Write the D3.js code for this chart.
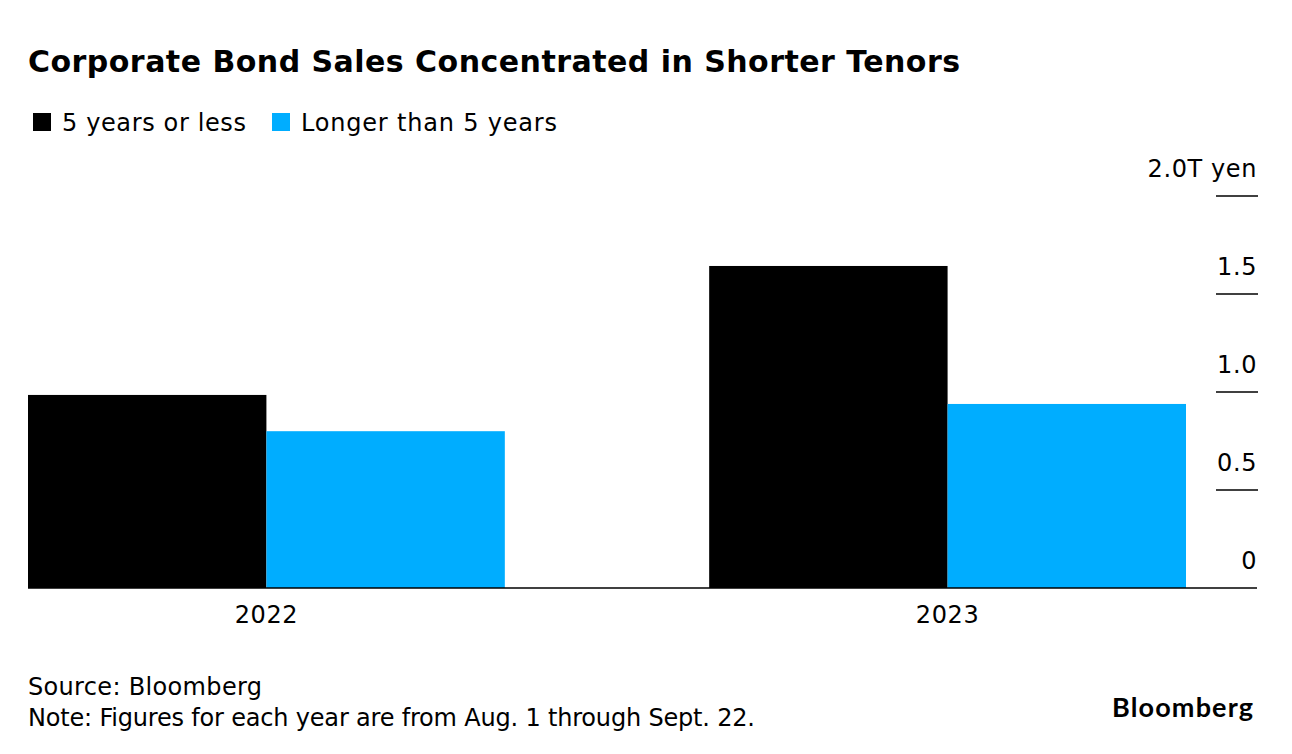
<!DOCTYPE html>
<html>
<head>
<meta charset="utf-8">
<script src="https://cdn.jsdelivr.net/npm/d3@7"></script>
<style>
  body { margin: 0; background: #fff; }
  text { font-family: "DejaVu Sans", "Liberation Sans", sans-serif; fill: #000; }
</style>
</head>
<body>
<svg id="chart" width="1292" height="754"></svg>
<script>
"use strict";

const years = ["2022", "2023"];
const series = ["5 years or less", "Longer than 5 years"];
const short_tenor = [0.985, 1.643];
const long_tenor = [0.80, 0.939];
const y_ticks = [0, 0.5, 1.0, 1.5, 2.0];
const y_tick_labels = ["0", "0.5", "1.0", "1.5", "2.0T yen"];
const colors = ["#000000", "#00adff"];

const svg = d3.select("#chart");

// stretch a text to the width it has in the original
function fit(sel, w) {
    return sel.attr("textLength", w).attr("lengthAdjust", "spacing");
}

// title + legend
fit(svg.append("text")
    .attr("x", 28).attr("y", 72)
    .attr("font-size", 30).attr("font-weight", "bold")
    .text("Corporate Bond Sales Concentrated in Shorter Tenors"), 932);

const legend_x = [33, 272];
const legend_w = [184, 256];
series.forEach((s, i) => {
    svg.append("rect")
        .attr("x", legend_x[i]).attr("y", 113)
        .attr("width", 18).attr("height", 18)
        .attr("fill", colors[i]);
    fit(svg.append("text")
        .attr("x", legend_x[i] + 29).attr("y", 131)
        .attr("font-size", 24)
        .text(s), legend_w[i]);
});

const x0 = d3.scaleBand()
    .domain(years)
    .range([28, 1186])
    .paddingInner(0.3)
    .paddingOuter(0);
const x1 = d3.scaleBand()
    .domain(series)
    .range([0, x0.bandwidth()]);
const y = d3.scaleLinear()
    .domain([0, 2])
    .range([588, 196]);

const rows = years.map((yr, i) => ({year: yr, values: [short_tenor[i], long_tenor[i]]}));

const groups = svg.append("g").selectAll("g")
    .data(rows)
    .join("g")
    .attr("transform", d => `translate(${x0(d.year)},0)`);
groups.selectAll("rect")
    .data(d => d.values.map((v, i) => ({key: series[i], v: v, i: i})))
    .join("rect")
    .attr("x", d => x1(d.key))
    .attr("y", d => y(d.v))
    .attr("width", x1.bandwidth())
    .attr("height", d => y(0) - y(d.v))
    .attr("fill", d => colors[d.i]);

// right axis: short lines with labels sitting on top
const axis = svg.append("g");
y_ticks.forEach((t, i) => {
    if (t > 0) {
        axis.append("line")
            .attr("x1", 1216).attr("x2", 1258)
            .attr("y1", y(t)).attr("y2", y(t))
            .attr("stroke", "#000").attr("stroke-width", 1.5);
    }
    axis.append("text")
        .attr("x", 1257).attr("y", y(t) - 19)
        .attr("text-anchor", "end")
        .attr("font-size", 24)
        .attr("letter-spacing", 0.6)
        .text(y_tick_labels[i]);
});

// baseline
svg.append("line")
    .attr("x1", 28).attr("x2", 1257)
    .attr("y1", y(0)).attr("y2", y(0))
    .attr("stroke", "#000").attr("stroke-width", 1.5);

// x labels
svg.append("g").selectAll("text")
    .data(years)
    .join("text")
    .attr("x", d => x0(d) + x0.bandwidth() / 2)
    .attr("y", 623)
    .attr("text-anchor", "middle")
    .attr("font-size", 24)
    .attr("letter-spacing", 0.6)
    .text(d => d);

// footer
fit(svg.append("text")
    .attr("x", 28).attr("y", 695)
    .attr("font-size", 24)
    .text("Source: Bloomberg"), 234);
fit(svg.append("text")
    .attr("x", 28).attr("y", 726)
    .attr("font-size", 24)
    .text("Note: Figures for each year are from Aug. 1 through Sept. 22."), 727);
// logo: css rule would win over the attribute, so set it as style
fit(svg.append("text")
    .attr("x", 1112).attr("y", 717)
    .attr("font-size", 27).attr("font-weight", "bold")
    .style("font-family", "Lato, 'Liberation Sans', sans-serif")
    .text("Bloomberg"), 141);
</script>
</body>
</html>
